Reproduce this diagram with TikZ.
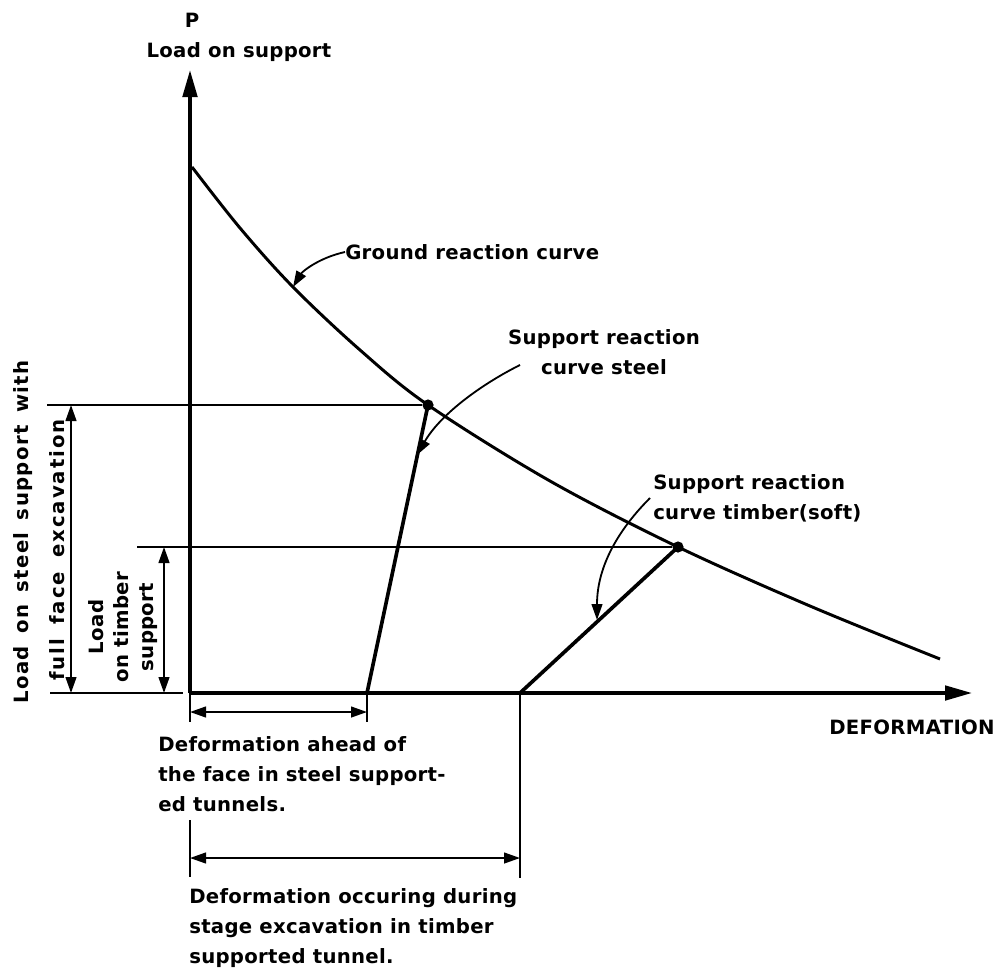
\documentclass[tikz,border=0pt]{standalone}
\usepackage{fontspec}
\newfontfamily\labfont[LetterSpace=1.5]{DejaVu Sans Bold}
\newfontfamily\widefont[LetterSpace=7,WordSpace=1.5]{DejaVu Sans Bold}
\newfontfamily\widerfont[LetterSpace=10,WordSpace=1.6]{DejaVu Sans Bold}
\usetikzlibrary{arrows.meta}
\begin{document}
\begin{tikzpicture}[x=0.025cm,y=-0.025cm,
  lbl/.style={font=\labfont\fontsize{14}{21.3}\selectfont, inner sep=0pt},
  axis/.style={line width=2.6pt, -{Triangle[length=0.675cm,width=0.36cm]}},
  curve/.style={line width=2.1pt},
  support/.style={line width=2.6pt},
  thin/.style={line width=1.3pt},
  dim/.style={line width=1.3pt, {Triangle[length=0.4cm,width=0.27cm]}-{Triangle[length=0.4cm,width=0.27cm]}},
  pointer/.style={line width=1.3pt, -{Triangle[length=0.4cm,width=0.27cm]}},
  dot/.style={circle, fill=black, inner sep=0pt, minimum size=0.28cm}
]
\useasboundingbox (0,0) rectangle (1003,973);

% axes
\coordinate (O) at (190,693);
\coordinate (ytop) at (190,70);
\coordinate (xend) at (972,693);
\draw[axis] (O) -- (ytop);
\draw[axis] (O) -- (xend);
\node[lbl] (Plab) at (192,20) {P};
\node[lbl] (ylab) at (239,52) {Load on support};
\node[lbl] (xlab) at (912,727) {DEFORMATION};

% ground reaction curve
\node[dot] (ps) at (428,405) {};
\node[dot] (pt) at (678,547) {};
\draw[curve] plot[smooth, tension=0.55] coordinates {(192,167) (240,228) (293,287) (360,350) (428,405) (550,481) (678,547) (810,606) (940,659)};

% support reaction lines
\coordinate (s0) at (367,693);
\coordinate (t0) at (520,693);
\draw[support] (ps.center) -- (s0);
\draw[support] (pt.center) -- (t0);

% load levels
\coordinate (hs) at (47,405);
\coordinate (ht) at (137,547);
\coordinate (hb0) at (50,693);
\coordinate (hb1) at (183,693);
\draw[thin] (hs) -- (ps.west);
\draw[thin] (ht) -- (pt.west);
\draw[thin] (hb0) -- (hb1);

% vertical dimension arrows
\coordinate (ds1) at (71,405);
\coordinate (ds0) at (71,693);
\coordinate (dt1) at (164,547);
\coordinate (dt0) at (164,693);
\draw[dim] (ds0) -- (ds1);
\draw[dim] (dt0) -- (dt1);
\node[lbl, rotate=90, font=\widefont\fontsize{14}{21.3}\selectfont] (lsteelA) at (23,532) {Load on steel support with};
\node[lbl, rotate=90, font=\widerfont\fontsize{14}{21.3}\selectfont] (lsteelB) at (57,550) {full face excavation};
\node[lbl, rotate=90, align=center, font=\labfont\fontsize{14}{18}\selectfont] (ltimber) at (123,627) {Load\\on timber\\support};

% horizontal dimension: deformation ahead of the face
\coordinate (a1t) at (190,722);
\coordinate (a2t) at (367,722);
\coordinate (a1) at (190,712);
\coordinate (a2) at (367,712);
\draw[thin] (O) -- (a1t);
\draw[thin] (s0) -- (a2t);
\draw[dim] (a1) -- (a2);
\node[lbl, align=left, anchor=west] (dahead) at (158,774) {Deformation ahead of\\the face in steel support-\\ed tunnels.};

% horizontal dimension: deformation during stage excavation
\coordinate (b1u) at (190,820);
\coordinate (b1d) at (190,877);
\coordinate (b2d) at (520,878);
\coordinate (b1) at (190,858);
\coordinate (b2) at (520,858);
\draw[thin] (b1u) -- (b1d);
\draw[thin] (t0) -- (b2d);
\draw[dim] (b1) -- (b2);
\node[lbl, align=left, anchor=west] (dstage) at (189,928) {Deformation occuring during\\stage excavation in timber\\supported tunnel.};

% curve labels
\node[lbl, anchor=west] (gl) at (345,252) {Ground reaction curve};
\coordinate (gtip) at (293,287);
\draw[pointer] (gl.west) .. controls (318,258) and (302,272) .. (gtip);

\node[lbl, align=center] (sl) at (604,352) {Support reaction\\curve steel};
\coordinate (sfrom) at (520,365);
\coordinate (stip) at (417,455);
\draw[pointer] (sfrom) .. controls (480,385) and (440,415) .. (stip);

\node[lbl, align=left, anchor=west] (tl) at (653,498) {Support reaction\\curve timber(soft)};
\coordinate (tfrom) at (650,498);
\coordinate (ttip) at (597,620);
\draw[pointer] (tfrom) .. controls (620,528) and (597,565) .. (ttip);
\end{tikzpicture}
\end{document}
